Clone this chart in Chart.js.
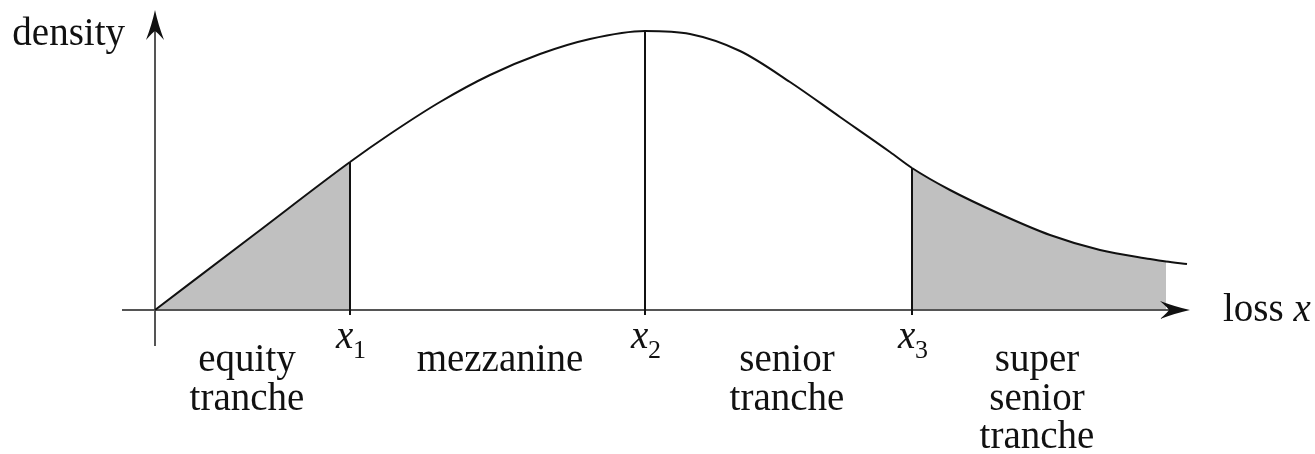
<!DOCTYPE html>
<html>
<head>
<meta charset="utf-8">
<script src="https://cdn.jsdelivr.net/npm/chart.js@4/dist/chart.umd.min.js"></script>
<style>
	html, body { margin: 0; padding: 0; background: #fff; }
	#wrap { width: 1315px; height: 454px; }
</style>
</head>
<body>
<div id="wrap"><canvas id="chart" width="1315" height="454"></canvas></div>
<script>
// curve (loss x, density)
const lossX = [0, 1.0, 1.95, 2.35, 2.85, 3.35, 3.85, 4.35, 4.90, 5.35, 5.85, 6.35, 6.85, 7.35, 7.57, 7.95, 8.45, 8.95, 9.45, 9.95, 10.11, 10.32];
const density = [0, 0.76, 1.48, 1.76, 2.08, 2.35, 2.56, 2.71, 2.79, 2.76, 2.59, 2.28, 1.93, 1.58, 1.42, 1.20, 0.96, 0.75, 0.60, 0.51, 0.485, 0.46];

// tranche attachment points x1, x2, x3 and where the grey tail stops
const breakX = [1.95, 4.90, 7.57];
const breakSub = ['1', '2', '3'];
const shadeEnd = 10.11;

const trancheNames = [['equity', 'tranche'], ['mezzanine'], ['senior', 'tranche'], ['super', 'senior', 'tranche']];

// axis extents
const xAxisRange = [-0.33, 10.35];
const yAxisRange = [-0.36, 3.0];

let curvePts = lossX.map((x, i) => ({ x, y: density[i] }));

const FONT = '"Liberation Serif", "Times New Roman", serif';
const INK = '#111';
const SHADE = '#c0c0c0';

// arrowhead, tip at (x, y), pointing along angle
let drawArrow = (ctx, x, y, angle) => {
	ctx.save();
	ctx.translate(x, y);
	ctx.rotate(angle);
	ctx.beginPath();
	ctx.moveTo(0, 0);
	ctx.quadraticCurveTo(-14, -3, -30, -9);
	ctx.quadraticCurveTo(-22, -2, -21, 0);
	ctx.quadraticCurveTo(-22, 2, -30, 9);
	ctx.quadraticCurveTo(-14, 3, 0, 0);
	ctx.closePath();
	ctx.fillStyle = INK;
	ctx.fill();
	ctx.restore();
};

// arrows + all the text labels
let annotations = {
	id: 'trancheAnnotations',
	afterDatasetsDraw (chart, args, opts) {
		let { ctx, scales: { x: xs, y: ys } } = chart;
		let axisY = ys.getPixelForValue(0);
		let axisX = xs.getPixelForValue(0);

		drawArrow(ctx, xs.getPixelForValue(xAxisRange[1]), axisY, 0);
		drawArrow(ctx, axisX, ys.getPixelForValue(yAxisRange[1]), -Math.PI / 2);

		ctx.save();
		ctx.fillStyle = INK;
		ctx.textBaseline = 'alphabetic';

		// axis titles
		ctx.font = `39px ${FONT}`;
		ctx.textAlign = 'right';
		ctx.fillText('density', axisX - 30, ys.getPixelForValue(yAxisRange[1]) + 35);

		ctx.textAlign = 'left';
		let lx = xs.getPixelForValue(xAxisRange[1]) + 33;
		ctx.fillText('loss ', lx, axisY + 11);
		let w = ctx.measureText('loss ').width;
		ctx.font = `italic 39px ${FONT}`;
		ctx.fillText('x', lx + w, axisY + 11);

		// x1, x2, x3
		breakX.forEach((bx, i) => {
			let px = xs.getPixelForValue(bx);
			ctx.font = `italic 39px ${FONT}`;
			ctx.fillText('x', px - 14, axisY + 38);
			ctx.font = `26px ${FONT}`;
			ctx.fillText(breakSub[i], px + 3, axisY + 48);
		});

		// tranche names
		ctx.font = `39px ${FONT}`;
		ctx.textAlign = 'center';
		trancheNames.forEach((lines, i) => {
			let cx = xs.getPixelForValue(opts.labelX[i]);
			lines.forEach((line, j) => {
				ctx.fillText(line, cx, axisY + 61 + j * 38.5);
			});
		});
		ctx.restore();
	},
};

let lineDs = (data, extra) => Object.assign({
	data,
	borderColor: INK,
	borderWidth: 2,
	pointRadius: 0,
	fill: false,
	tension: 0,
}, extra);

// grey only under the equity and super senior parts of the curve
let isShaded = (ctx) => {
	let a = ctx.p0.parsed.x;
	let b = ctx.p1.parsed.x;
	return b <= breakX[0] || (a >= breakX[2] && b <= shadeEnd);
};

let datasets = [
	// curve on top, its fill is split per segment
	lineDs(curvePts, {
		order: 0,
		cubicInterpolationMode: 'monotone',
		fill: 'origin',
		backgroundColor: 'rgba(0,0,0,0)',
		segment: {
			backgroundColor: ctx => isShaded(ctx) ? SHADE : 'rgba(0,0,0,0)',
		},
	}),
	// vertical tranche boundaries
	...breakX.map(bx => lineDs([{ x: bx, y: -0.05 }, { x: bx, y: density[lossX.indexOf(bx)] }], { order: 1 })),
	// axes
	lineDs([{ x: xAxisRange[0], y: 0 }, { x: xAxisRange[1] - 0.2, y: 0 }], { order: 2, borderColor: '#555' }),
	lineDs([{ x: 0, y: yAxisRange[0] }, { x: 0, y: yAxisRange[1] - 0.2 }], { order: 2, borderColor: '#555' }),
];

new Chart(document.getElementById('chart'), {
	type: 'line',
	data: { datasets },
	options: {
		responsive: false,
		animation: false,
		devicePixelRatio: 1,
		layout: { padding: 0 },
		plugins: {
			legend: { display: false },
			tooltip: { enabled: false },
			filler: { drawTime: 'beforeDatasetsDraw' },
			trancheAnnotations: { labelX: [0.92, 3.45, 6.32, 8.82] },
		},
		scales: {
			x: { type: 'linear', min: -1.55, max: 11.60, display: false },
			y: { type: 'linear', min: -1.44, max: 3.10, display: false },
		},
	},
	plugins: [annotations],
});
</script>
</body>
</html>
